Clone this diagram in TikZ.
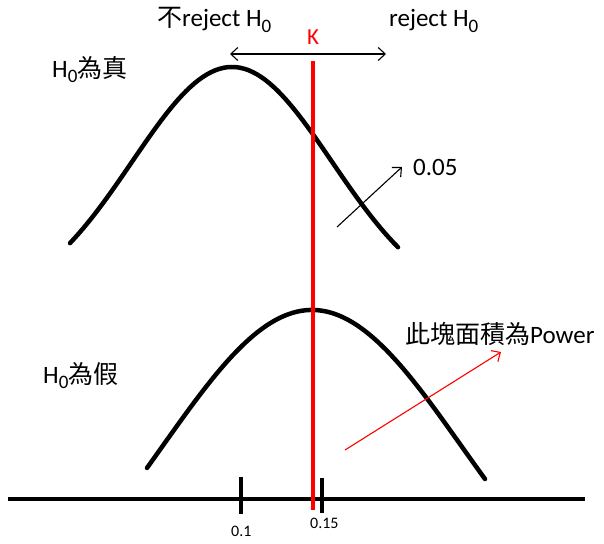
\documentclass[tikz,border=0pt]{standalone}
\usepackage{fontspec}
\setmainfont{Carlito}
\newfontfamily\cjk{Noto Sans CJK TC}
\usetikzlibrary{arrows.meta}
\newcommand\subz[1]{\raisebox{-0.22em}{\fontsize{19}{19}\selectfont #1}}
\begin{document}
\begin{tikzpicture}[x=1pt,y=-1pt,
  lbl/.style={inner sep=0pt,anchor=base west,font=\fontsize{25}{28}\selectfont},
  small/.style={inner sep=0pt,anchor=base west,font=\fontsize{16}{18}\selectfont},
  curve/.style={line width=4.5pt,line cap=round},
  thinarrow/.style={line width=1.1pt,-{Straight Barb[length=7pt,width=13pt]}},
  dblarrow/.style={line width=1.1pt,{Straight Barb[length=7pt,width=13pt]}-{Straight Barb[length=7pt,width=13pt]}}]
\useasboundingbox (0,0) rectangle (604,543);
% texts
\node[lbl] (notrej) at (157,27) {{\cjk 不}reject H\subz{0}};
\node[lbl] (rej) at (389,27) {reject H\subz{0}};
\node[inner sep=0pt,text=red,font=\fontsize{23}{25}\selectfont] (K) at (313,37) {K};
\node[lbl] (htrue) at (52,77) {H\subz{0}{\cjk 為真}};
\node[lbl] (hfalse) at (43,383) {H\subz{0}{\cjk 為假}};
\node[lbl] (p05) at (413,175) {0.05};
\node[lbl] (power) at (405,343) {{\cjk 此塊面積為}Power};
\node[small] (t1) at (231,536) {0.1};
\node[small] (t15) at (310,528) {0.15};
% double arrow
\coordinate (da) at (230,54);
\coordinate (db) at (386,54);
\draw[dblarrow] (da) -- (db);
% curves
\draw[curve] plot[domain=70:398,samples=80] (\x,{67+241*(1-exp(-((\x-232)/100)^2/2))});
\draw[curve] plot[domain=147:485,samples=80] (\x,{310+348*(1-exp(-((\x-312)/150)^2/2))});
% axis
\coordinate (ax0) at (8,499);
\coordinate (ax1) at (585,499);
\draw[line width=4.5pt] (ax0) -- (ax1);
\coordinate (k1a) at (241,477); \coordinate (k1b) at (241,514);
\coordinate (k2a) at (322,478); \coordinate (k2b) at (322,513);
\draw[line width=4pt] (k1a) -- (k1b);
\draw[line width=4pt] (k2a) -- (k2b);
% red line
\coordinate (ra) at (313,61);
\coordinate (rb) at (313,510);
\draw[red,line width=4.5pt] (ra) -- (rb);
% arrows
\coordinate (a1s) at (337,227);
\coordinate (a1e) at (402,167);
\draw[thinarrow] (a1s) -- (a1e);
\coordinate (a2s) at (345,450);
\coordinate (a2e) at (501,352);
\draw[thinarrow,red] (a2s) -- (a2e);
\end{tikzpicture}
\end{document}
